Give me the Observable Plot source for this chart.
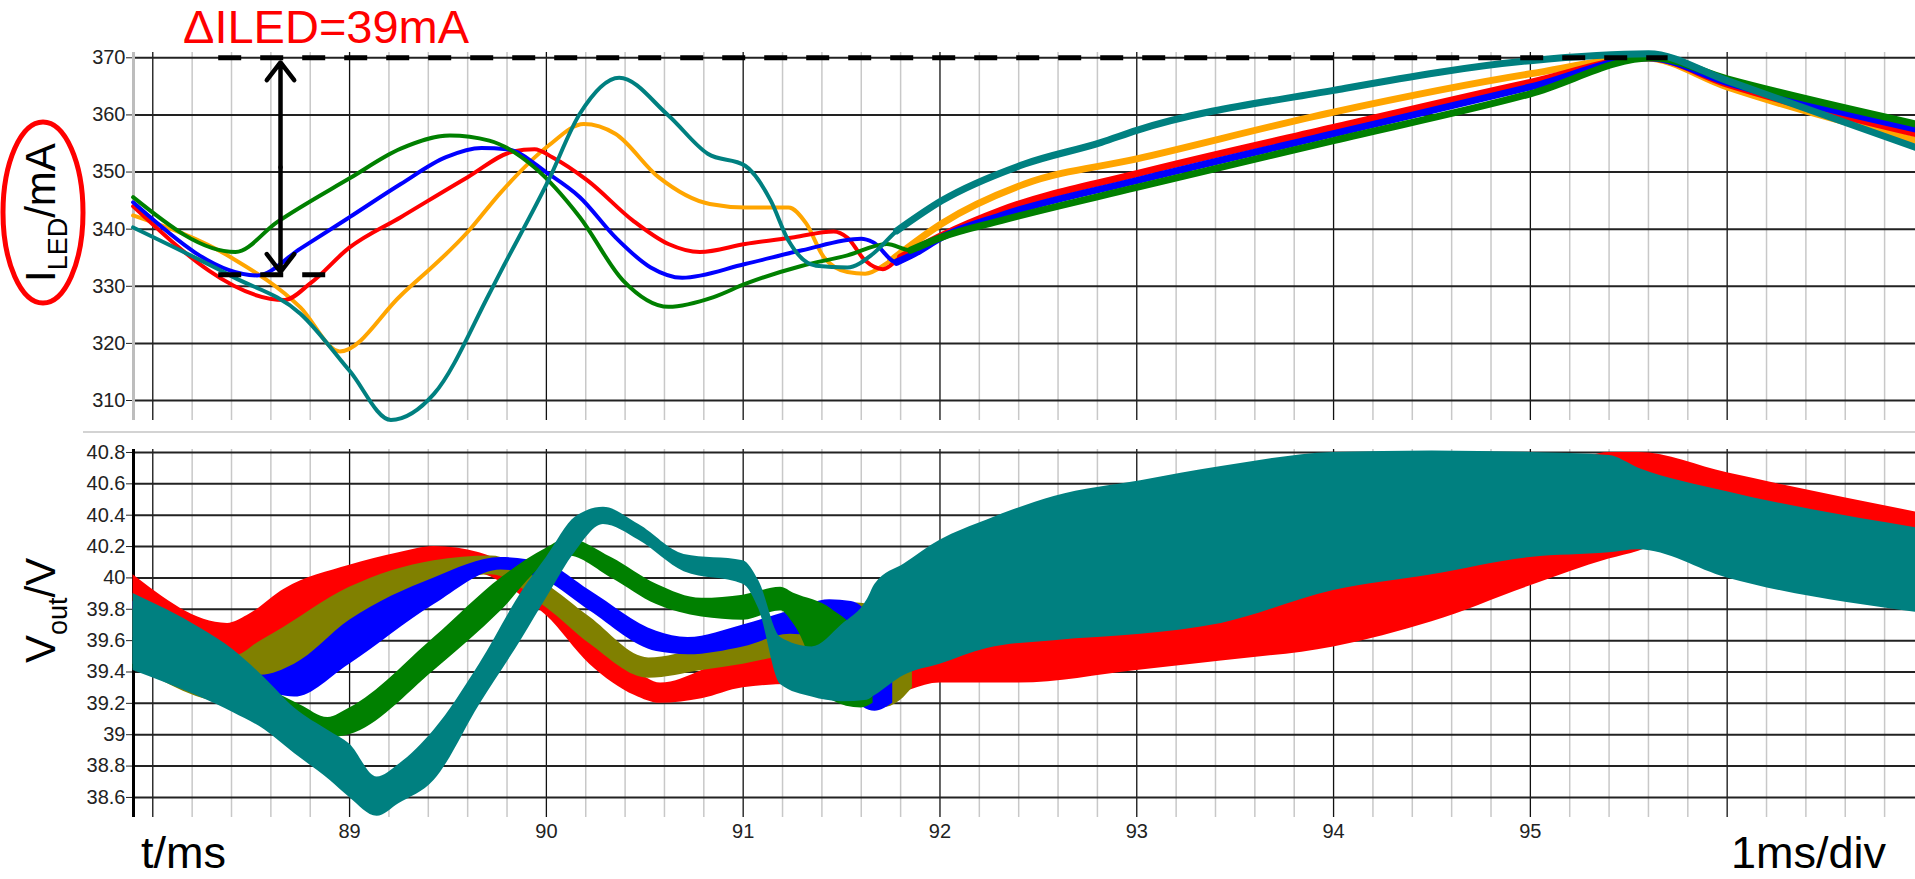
<!DOCTYPE html>
<html><head><meta charset="utf-8">
<script src="https://cdn.jsdelivr.net/npm/d3@7"></script>
<script src="https://cdn.jsdelivr.net/npm/@observablehq/plot@0.6"></script>
<style>
html,body{margin:0;padding:0;background:#fff;}
#wrap{position:relative;width:1915px;height:879px;overflow:hidden;}
#top,#bot{position:absolute;left:0;}
#top{top:0;} #bot{top:433px;}
</style></head>
<body><div id="wrap"><div id="top"></div><div id="bot"></div></div>
<script>
// ---------- axes / ticks ----------
const tDomain = [87.902, 96.957];
const majorT = [88, 89, 90, 91, 92, 93, 94, 95, 96];
const minorT = [88.2,88.4,88.6,88.8,89.2,89.4,89.6,89.8,90.2,90.4,90.6,90.8,91.2,91.4,91.6,91.8,92.2,92.4,92.6,92.8,93.2,93.4,93.6,93.8,94.2,94.4,94.6,94.8,95.2,95.4,95.6,95.8,96.2,96.4,96.6,96.8];
const xLabels = [89, 90, 91, 92, 93, 94, 95];
const iTicks = [310, 320, 330, 340, 350, 360, 370];
const vTicks = [38.6, 38.8, 39, 39.2, 39.4, 39.6, 39.8, 40, 40.2, 40.4, 40.6, 40.8];

// ---------- I_LED (mA) traces: [t ms, I mA] ----------
const iledGreen = [[87.90,345.6],[88.42,336.0],[88.63,341.2],[89.00,348.9],[89.26,354.1],[89.51,356.4],[89.71,355.5],[89.94,350.8],[90.17,342.1],[90.39,331.0],[90.62,326.4],[90.85,328.1],[91.01,330.4],[91.30,333.6],[91.53,335.4],[91.73,337.4],[91.85,336.3],[92.01,338.6],[92.31,341.5],[93.00,347.3],[94.00,355.5],[95.00,363.7],[95.62,370.0],[96.00,366.3],[96.96,358.4]];
const iledBlue = [[87.90,344.7],[88.53,331.9],[88.75,336.6],[89.00,342.1],[89.26,347.9],[89.49,352.6],[89.67,354.2],[89.80,354.0],[90.01,349.7],[90.17,345.6],[90.35,338.6],[90.53,333.3],[90.69,331.5],[91.01,333.9],[91.30,336.3],[91.60,338.3],[91.66,337.7],[91.78,334.2],[91.87,335.7],[92.01,338.6],[92.31,342.4],[93.00,348.5],[94.00,356.7],[95.00,364.9],[95.60,370.0],[96.00,365.7],[96.96,357.5]];
const iledRed = [[87.90,344.0],[88.67,327.6],[88.80,330.5],[89.00,336.8],[89.26,342.1],[89.60,349.1],[89.83,353.6],[89.94,354.0],[90.03,352.6],[90.21,348.5],[90.44,341.5],[90.62,337.4],[90.78,336.0],[91.01,337.4],[91.26,338.6],[91.46,339.6],[91.53,338.5],[91.62,334.5],[91.71,333.0],[91.80,335.1],[92.01,338.9],[92.31,343.3],[93.00,349.7],[94.00,357.8],[95.00,365.7],[95.60,370.0],[96.00,365.4],[96.96,356.7]];
const iledOrange = [[87.90,342.4],[88.40,335.0],[88.75,326.3],[88.95,318.6],[89.26,328.4],[89.60,339.5],[89.77,346.5],[90.01,354.6],[90.19,358.4],[90.35,356.7],[90.57,349.1],[90.83,344.4],[91.01,343.8],[91.23,343.8],[91.32,341.0],[91.41,335.1],[91.53,332.5],[91.62,332.2],[91.75,334.5],[92.01,341.0],[92.43,347.9],[93.00,352.3],[94.00,360.5],[95.00,367.2],[95.58,370.0],[96.00,364.9],[96.96,355.5]];
const iledTeal = [[87.90,340.3],[88.41,331.6],[88.75,325.2],[89.00,315.2],[89.21,306.6],[89.43,311.2],[89.71,328.7],[89.77,332.7],[90.01,348.5],[90.17,360.2],[90.37,366.5],[90.62,359.9],[90.82,353.2],[91.01,351.1],[91.14,345.0],[91.23,338.0],[91.37,333.6],[91.53,333.3],[91.66,335.7],[91.78,339.7],[92.01,345.0],[92.43,351.4],[92.82,355.2],[93.00,357.3],[94.00,364.3],[95.00,369.5],[95.60,370.7],[96.00,366.0],[96.96,354.3]];

// ΔILED annotation levels (mA) and arrow time (ms)
const deltaTop = [370];
const deltaLow = [332];
const deltaSpanT = [88.335, 95.70];
const deltaLowSpanT = [88.335, 88.893];
const arrowT = 88.649;
const arrowEnds = [369.2, 332.5];

// ---------- Vout (V) ripple envelopes: [t ms, low V, high V] ----------
const voutRed = [[87.90,39.62,40.02],[88.38,39.50,39.71],[88.48,39.47,39.76],[88.67,39.58,39.93],[89.00,39.80,40.08],[89.25,39.96,40.16],[89.43,40.06,40.20],[89.66,40.03,40.16],[89.88,39.88,40.03],[90.00,39.76,39.92],[90.22,39.45,39.62],[90.45,39.25,39.41],[90.58,39.20,39.33],[90.79,39.23,39.41],[91.00,39.30,39.56],[91.24,39.32,39.62],[91.45,39.28,39.78],[91.60,39.26,39.75],[91.70,39.24,39.65],[92.00,39.33,39.62],[92.40,39.33,39.70],[93.00,39.41,39.80],[93.43,39.47,39.88],[94.00,39.56,40.05],[94.50,39.72,40.25],[95.00,39.95,40.55],[95.40,40.12,40.80],[95.55,40.17,40.80],[96.00,40.45,40.67],[96.96,40.28,40.42]];
const voutOlive = [[87.90,39.45,39.85],[88.41,39.20,39.50],[88.55,39.37,39.60],[88.62,39.37,39.65],[89.00,39.62,39.94],[89.43,39.94,40.11],[89.72,40.02,40.14],[90.00,39.81,39.96],[90.22,39.58,39.75],[90.52,39.36,39.49],[90.79,39.41,39.56],[91.00,39.45,39.66],[91.24,39.50,39.72],[91.58,39.30,39.84],[91.70,39.17,39.80],[91.80,39.22,39.70],[91.86,39.30,39.50]];
const voutBlue = [[87.90,39.45,39.85],[88.55,39.28,39.38],[88.72,39.24,39.45],[89.00,39.45,39.73],[89.43,39.83,40.00],[89.77,40.05,40.13],[90.00,39.98,40.09],[90.22,39.79,39.92],[90.56,39.53,39.66],[90.72,39.51,39.62],[91.00,39.56,39.70],[91.24,39.64,39.79],[91.44,39.60,39.86],[91.55,39.25,39.85],[91.67,39.15,39.70],[91.76,39.20,39.40]];
const voutGreen = [[87.90,39.42,39.80],[88.75,39.07,39.19],[88.89,38.98,39.11],[89.00,39.00,39.17],[89.43,39.41,39.62],[89.77,39.79,40.00],[90.00,40.09,40.19],[90.11,40.14,40.25],[90.33,40.00,40.13],[90.56,39.83,39.96],[90.79,39.75,39.87],[91.00,39.73,39.89],[91.19,39.79,39.94],[91.26,39.70,39.90],[91.45,39.22,39.80],[91.60,39.17,39.60],[91.66,39.20,39.40]];
const voutTeal = [[87.90,39.41,39.90],[88.24,39.24,39.68],[88.41,39.14,39.54],[88.57,39.03,39.36],[88.72,38.88,39.17],[88.90,38.71,39.02],[89.00,38.60,38.94],[89.14,38.48,38.73],[89.25,38.56,38.81],[89.43,38.71,39.03],[89.66,39.19,39.45],[89.88,39.62,39.92],[90.00,39.87,40.13],[90.15,40.17,40.39],[90.29,40.34,40.45],[90.47,40.24,40.34],[90.70,40.04,40.15],[91.00,39.96,40.11],[91.08,39.80,39.98],[91.19,39.32,39.62],[91.35,39.24,39.56],[91.50,39.21,39.70],[91.63,39.22,39.86],[91.67,39.25,39.96],[91.82,39.38,40.09],[92.00,39.45,40.24],[92.24,39.55,40.37],[92.58,39.60,40.52],[93.02,39.64,40.62],[93.43,39.71,40.71],[94.00,39.92,40.80],[94.50,40.02,40.81],[95.00,40.13,40.80],[95.40,40.16,40.78],[95.55,40.18,40.70],[96.00,40.00,40.55],[96.96,39.78,40.32]];

const FONT = "Liberation Sans, Arial, sans-serif";

// ---------- top panel ----------
const topSeries = [
  {rows: iledOrange, color: "#ffa500"},
  {rows: iledRed, color: "#ff0000"},
  {rows: iledBlue, color: "#0000ff"},
  {rows: iledGreen, color: "#008000"},
  {rows: iledTeal, color: "#008080"}
];
const topMarks = [
  Plot.ruleX(minorT, {stroke: "#c8c8c8", strokeWidth: 1.5}),
  Plot.ruleX(majorT, {stroke: "#111", strokeWidth: 1.3}),
  Plot.ruleY(iTicks, {stroke: "#222", strokeWidth: 2}),
  Plot.ruleX([tDomain[0]], {stroke: "#bdbdbd", strokeWidth: 3})
];
for (const {rows, color} of topSeries) {
  topMarks.push(Plot.line(rows, {x: d => d[0], y: d => d[1], stroke: color, strokeWidth: 4, curve: "monotone-x", strokeLinejoin: "round"}));
  topMarks.push(Plot.line(rows.filter(d => d[0] >= 91.75), {x: d => d[0], y: d => d[1], stroke: color, strokeWidth: 7, curve: "monotone-x", strokeLinejoin: "round"}));
}
topMarks.push(
  Plot.ruleY(deltaTop, {x1: deltaSpanT[0], x2: deltaSpanT[1], stroke: "#000", strokeWidth: 5, strokeDasharray: "23,19"}),
  Plot.ruleY(deltaLow, {x1: deltaLowSpanT[0], x2: deltaLowSpanT[1], stroke: "#000", strokeWidth: 5, strokeDasharray: "23,19"}),
  Plot.arrow(arrowEnds, {x1: arrowT, x2: arrowT, y1: (arrowEnds[0] + arrowEnds[1]) / 2, y2: d => d, stroke: "#000", strokeWidth: 4.5, headAngle: 75, headLength: 7.5})
);

const topSvg = Plot.plot({
  width: 1915, height: 433,
  marginLeft: 133, marginRight: 0, marginTop: 52, marginBottom: 13,
  style: {fontFamily: FONT, fontSize: "20px", color: "#222", background: "transparent"},
  x: {domain: tDomain, axis: null},
  y: {domain: [306.5, 370.93], ticks: iTicks, tickSize: 7, tickPadding: 1, label: null},
  marks: topMarks
});
document.getElementById("top").appendChild(topSvg);

const ts = d3.select(topSvg);
ts.append("line").attr("x1", 83).attr("x2", 1915).attr("y1", 432).attr("y2", 432)
  .attr("stroke", "#d3d3d3").attr("stroke-width", 2);
ts.append("text").attr("x", 183).attr("y", 43).attr("text-anchor", "start")
  .attr("font-family", FONT).attr("font-size", 47).attr("fill", "#ff0000").text("ΔILED=39mA");
ts.append("ellipse").attr("cx", 43).attr("cy", 212.5).attr("rx", 40).attr("ry", 90.5)
  .attr("fill", "none").attr("stroke", "#ff0000").attr("stroke-width", 5);
const il = ts.append("text").attr("transform", "translate(55,282) rotate(-90)")
  .attr("text-anchor", "start").attr("font-family", FONT).attr("font-size", 42).attr("fill", "#000");
il.append("tspan").text("I");
il.append("tspan").attr("font-size", 27).attr("dy", 12).text("LED");
il.append("tspan").attr("dy", -12).text("/mA");

// ---------- bottom panel ----------
const botSeries = [
  {rows: voutRed, color: "#ff0000"},
  {rows: voutOlive, color: "#808000"},
  {rows: voutBlue, color: "#0000ff"},
  {rows: voutGreen, color: "#008000"},
  {rows: voutTeal, color: "#008080"}
];
const botMarks = [
  Plot.ruleX(minorT, {stroke: "#c8c8c8", strokeWidth: 1.5}),
  Plot.ruleX(majorT, {stroke: "#111", strokeWidth: 1.3}),
  Plot.ruleY(vTicks, {stroke: "#222", strokeWidth: 2}),
  Plot.ruleX([tDomain[0]], {stroke: "#000", strokeWidth: 3})
];
for (const {rows, color} of botSeries) {
  botMarks.push(Plot.areaY(rows, {x: d => d[0], y1: d => d[1], y2: d => d[2], fill: color, curve: "monotone-x"}));
}

const botSvg = Plot.plot({
  width: 1915, height: 446,
  marginLeft: 133, marginRight: 0, marginTop: 16, marginBottom: 62,
  style: {fontFamily: FONT, fontSize: "20px", color: "#222", background: "transparent"},
  x: {domain: tDomain, ticks: xLabels, tickSize: 0, tickPadding: 6, label: null, tickFormat: d => String(d)},
  y: {domain: [38.472, 40.819], ticks: vTicks, tickSize: 7, tickPadding: 1, label: null,
      tickFormat: d => Number.isInteger(d) ? String(d) : d.toFixed(1)},
  marks: botMarks
});
document.getElementById("bot").appendChild(botSvg);

const bs = d3.select(botSvg);
const vl = bs.append("text").attr("transform", "translate(55,230) rotate(-90)")
  .attr("text-anchor", "start").attr("font-family", FONT).attr("font-size", 42).attr("fill", "#000");
vl.append("tspan").text("V");
vl.append("tspan").attr("font-size", 27).attr("dy", 12).text("out");
vl.append("tspan").attr("dy", -12).text("/V");
bs.append("text").attr("x", 141).attr("y", 435).attr("text-anchor", "start")
  .attr("font-family", FONT).attr("font-size", 45).attr("fill", "#000").text("t/ms");
bs.append("text").attr("x", 1731).attr("y", 435).attr("text-anchor", "start")
  .attr("font-family", FONT).attr("font-size", 45).attr("fill", "#000").text("1ms/div");
</script>
</body></html>
